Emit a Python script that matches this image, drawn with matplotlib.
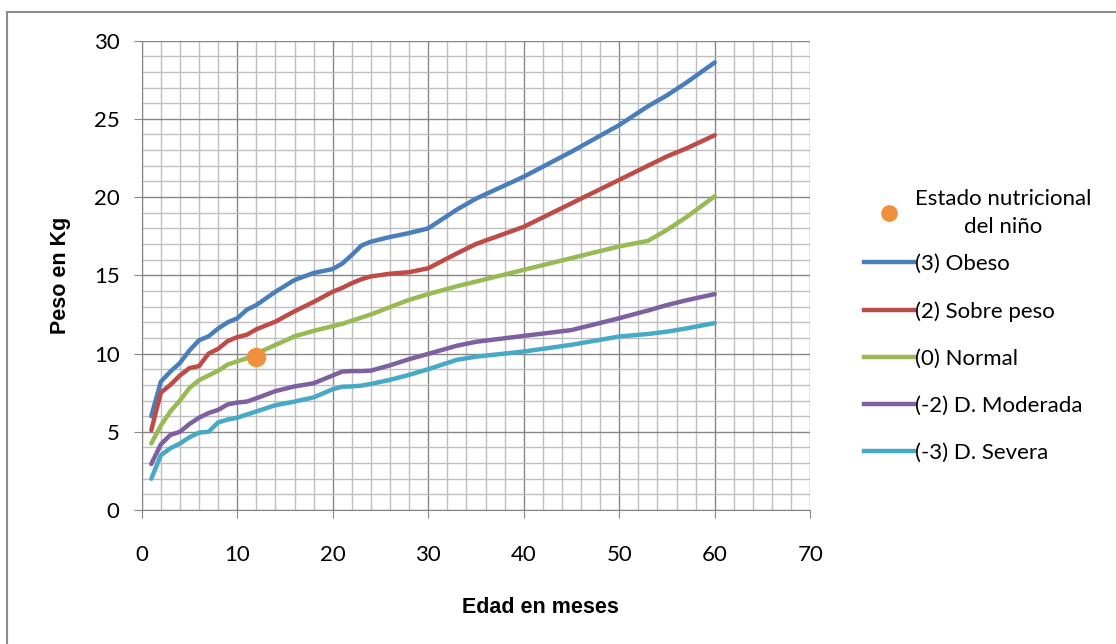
import matplotlib
matplotlib.use("Agg")
import matplotlib.pyplot as plt
from matplotlib.lines import Line2D
from matplotlib.patches import Rectangle
from matplotlib.ticker import MultipleLocator

months = [1, 2, 3, 4, 5, 6, 7, 8, 9, 10, 11, 12, 14, 16, 18, 20, 21, 22, 23, 24,
          26, 28, 30, 33, 35, 40, 45, 50, 53, 55, 57, 60]

obeso = [6.0, 8.2, 8.85, 9.4, 10.2, 10.85, 11.1, 11.6, 12.0, 12.25, 12.8, 13.1,
         13.95, 14.7, 15.15, 15.4, 15.75, 16.3, 16.9, 17.15, 17.45, 17.7, 18.0,
         19.2, 19.9, 21.3, 22.9, 24.6, 25.8, 26.5, 27.3, 28.6]
sobre_peso = [5.1, 7.5, 8.0, 8.6, 9.07, 9.2, 10.0, 10.3, 10.8, 11.05, 11.2, 11.55,
              12.04, 12.7, 13.3, 13.95, 14.2, 14.5, 14.75, 14.93, 15.1, 15.2, 15.45,
              16.4, 17.0, 18.1, 19.6, 21.1, 22.0, 22.6, 23.1, 23.95]
normal = [4.25, 5.4, 6.3, 7.0, 7.8, 8.3, 8.6, 8.9, 9.3, 9.5, 9.7, 10.0,
          10.55, 11.1, 11.45, 11.75, 11.9, 12.1, 12.3, 12.5, 12.97, 13.43, 13.8,
          14.3, 14.6, 15.35, 16.1, 16.85, 17.2, 17.9, 18.7, 20.05]
moderada = [2.94, 4.2, 4.8, 5.0, 5.5, 5.9, 6.2, 6.4, 6.75, 6.87, 6.93, 7.14,
            7.6, 7.9, 8.1, 8.6, 8.85, 8.88, 8.88, 8.91, 9.25, 9.64, 9.98,
            10.5, 10.75, 11.13, 11.5, 12.26, 12.75, 13.1, 13.4, 13.8]
severa = [2.0, 3.5, 3.95, 4.25, 4.65, 4.95, 5.0, 5.6, 5.78, 5.9, 6.1, 6.3,
          6.7, 6.93, 7.2, 7.72, 7.88, 7.9, 7.95, 8.06, 8.32, 8.64, 9.0,
          9.6, 9.8, 10.13, 10.56, 11.09, 11.25, 11.4, 11.6, 11.95]

nino_edad = [12]
nino_peso = [9.75]

series = [
    ("(3) Obeso", obeso, "#4A7EBB"),
    ("(2) Sobre peso", sobre_peso, "#BE4B48"),
    ("(0) Normal", normal, "#98B954"),
    ("(-2) D. Moderada", moderada, "#7D60A0"),
    ("(-3) D. Severa", severa, "#46AAC5"),
]

plt.rcParams['font.family'] = ['Lato', 'DejaVu Sans']

fig = plt.figure(figsize=(11.16, 6.44), dpi=100)
ax = fig.add_axes([0.127, 0.208, 0.599, 0.729])

ax.set_xlim(0, 70)
ax.set_ylim(0, 30)
ax.xaxis.set_major_locator(MultipleLocator(10))
ax.xaxis.set_minor_locator(MultipleLocator(2))
ax.yaxis.set_major_locator(MultipleLocator(5))
ax.yaxis.set_minor_locator(MultipleLocator(1))
ax.grid(which='minor', color='#BFBFBF', linewidth=1.0)
ax.grid(which='major', color='#868686', linewidth=1.0)
ax.set_axisbelow(True)
for s in ['top', 'right']:
    ax.spines[s].set_visible(False)
for s in ['left', 'bottom']:
    ax.spines[s].set_color('#868686')
ax.tick_params(which='major', length=6, color='#868686', labelsize=16)
ax.tick_params(which='minor', length=0)
ax.tick_params(axis='y', pad=10)
ax.tick_params(axis='x', pad=19)

for label, vals, color in series:
    ax.plot(months, vals, color=color, linewidth=3.2, solid_capstyle='round', label=label)

ax.plot(nino_edad, nino_peso, 'o', color='#F0903C', markersize=13, zorder=5)

fig.text(0.054, 0.573, "Peso en Kg", rotation=90, ha='center', va='center',
         fontsize=15.5, fontweight='bold', family=['Liberation Sans Narrow', 'Liberation Sans'])
fig.text(0.484, 0.056, "Edad en meses", ha='center', va='center',
         fontsize=15.5, fontweight='bold', family=['Liberation Sans Narrow', 'Liberation Sans'])

# legend part 1: the child's point (two-line label)
h_nino = Line2D([], [], marker='o', linestyle='none', color='#F0903C', markersize=11)
leg1 = fig.legend([h_nino], ["Estado nutricional\ndel niño"], loc='upper left',
                  bbox_to_anchor=(0.760, 0.730), frameon=False, fontsize=16,
                  handlelength=2.25, handletextpad=0.05, borderpad=0.2)
t = leg1.get_texts()[0]
t.set_multialignment('center')
t.set_linespacing(1.45)

# legend part 2: the reference curves
handles = [Line2D([], [], color=c, linewidth=3.2) for _, _, c in series]
labels = [lab for lab, _, _ in series]
fig.legend(handles, labels, loc='upper left', bbox_to_anchor=(0.760, 0.630),
           frameon=False, fontsize=16, handlelength=2.25, handletextpad=0.05,
           labelspacing=1.22, borderpad=0.2)

fig.patches.append(Rectangle((7 / 1116, -0.1), 1.2, 1 - 12 / 644 + 0.1,
                             transform=fig.transFigure, fill=False,
                             edgecolor='#8C8C8C', linewidth=1.5))

fig.savefig("out.png", dpi=100)
